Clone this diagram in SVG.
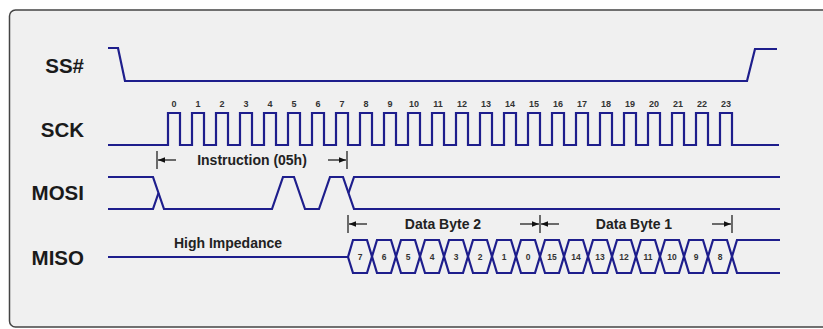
<svg xmlns="http://www.w3.org/2000/svg" width="823" height="329" viewBox="0 0 823 329">
<style>
.sig{fill:none;stroke:#1e1e8c;stroke-width:2.2;stroke-linejoin:miter}
.lbl{font-family:"Liberation Sans",Arial,sans-serif;font-weight:bold;font-size:20.5px;fill:#1a1a1a;text-anchor:end}
.num{font-family:"Liberation Sans",Arial,sans-serif;font-weight:bold;font-size:9px;fill:#333;text-anchor:middle}
.bnum{font-family:"Liberation Sans",Arial,sans-serif;font-weight:bold;font-size:8.5px;fill:#333;text-anchor:middle}
.ann{font-family:"Liberation Sans",Arial,sans-serif;font-weight:bold;font-size:14px;fill:#222;text-anchor:middle}
.dim{fill:none;stroke:#111;stroke-width:1.2}
</style>
<defs>
<marker id="ah" viewBox="0 0 10 8" refX="10" refY="4" markerWidth="7" markerHeight="5.6" markerUnits="userSpaceOnUse" orient="auto">
<path d="M0,0 L10,4 L0,8 Z" fill="#111"/>
</marker>
</defs>
<rect x="0" y="0" width="823" height="329" fill="#ffffff"/>
<rect id="frame" x="9.5" y="10" width="830" height="317" rx="6" fill="#f0f0f0" stroke="#444" stroke-width="1.5"/>

<g id="ss">
<text class="lbl" x="84" y="73">SS#</text>
<path class="sig" d="M108,48 H118 L125,81 H747 L755,49 H777"/>
</g>

<g id="sck">
<text class="lbl" x="84" y="137">SCK</text>
<path class="sig" d="M108,145 H168 V113 H180 V145 H192 V113 H204 V145 H216 V113 H228 V145 H240 V113 H252 V145 H264 V113 H276 V145 H288 V113 H300 V145 H312 V113 H324 V145 H336 V113 H348 V145 H360 V113 H372 V145 H384 V113 H396 V145 H408 V113 H420 V145 H432 V113 H444 V145 H456 V113 H468 V145 H480 V113 H492 V145 H504 V113 H516 V145 H528 V113 H540 V145 H552 V113 H564 V145 H576 V113 H588 V145 H600 V113 H612 V145 H624 V113 H636 V145 H648 V113 H660 V145 H672 V113 H684 V145 H696 V113 H708 V145 H720 V113 H732 V145 H779"/>
<g id="sck-nums">
<text class="num" x="174" y="107">0</text>
<text class="num" x="198" y="107">1</text>
<text class="num" x="222" y="107">2</text>
<text class="num" x="246" y="107">3</text>
<text class="num" x="270" y="107">4</text>
<text class="num" x="294" y="107">5</text>
<text class="num" x="318" y="107">6</text>
<text class="num" x="342" y="107">7</text>
<text class="num" x="366" y="107">8</text>
<text class="num" x="390" y="107">9</text>
<text class="num" x="414" y="107">10</text>
<text class="num" x="438" y="107">11</text>
<text class="num" x="462" y="107">12</text>
<text class="num" x="486" y="107">13</text>
<text class="num" x="510" y="107">14</text>
<text class="num" x="534" y="107">15</text>
<text class="num" x="558" y="107">16</text>
<text class="num" x="582" y="107">17</text>
<text class="num" x="606" y="107">18</text>
<text class="num" x="630" y="107">19</text>
<text class="num" x="654" y="107">20</text>
<text class="num" x="678" y="107">21</text>
<text class="num" x="702" y="107">22</text>
<text class="num" x="726" y="107">23</text>
</g>
</g>

<g id="mosi">
<text class="lbl" x="84" y="200">MOSI</text>
<path class="sig" d="M108,177 H153 L164,209 H272 L283,177 H294 L305,209 H319 L330,177 H343 L354,209 H780"/>
<path class="sig" d="M108,209 H153 L158.5,193"/>
<path class="sig" d="M348.5,193 L354,177 H780"/>
</g>

<g id="miso">
<text class="lbl" x="84" y="265">MISO</text>
<path class="sig" d="M108,257 H348"/>
<path class="sig" d="M348,257 L353,240 H367 L377,273 H391 L401,240 H415 L425,273 H439 L449,240 H463 L473,273 H487 L497,240 H511 L521,273 H535 L545,240 H559 L569,273 H583 L593,240 H607 L617,273 H631 L641,240 H655 L665,273 H679 L689,240 H703 L713,273 H727 L737,240 H780"/>
<path class="sig" d="M348,257 L353,273 H367 L377,240 H391 L401,273 H415 L425,240 H439 L449,273 H463 L473,240 H487 L497,273 H511 L521,240 H535 L545,273 H559 L569,240 H583 L593,273 H607 L617,240 H631 L641,273 H655 L665,240 H679 L689,273 H703 L713,240 H727 L737,273 H780"/>
<g id="miso-nums">
<text class="bnum" x="360" y="260">7</text>
<text class="bnum" x="384" y="260">6</text>
<text class="bnum" x="408" y="260">5</text>
<text class="bnum" x="432" y="260">4</text>
<text class="bnum" x="456" y="260">3</text>
<text class="bnum" x="480" y="260">2</text>
<text class="bnum" x="504" y="260">1</text>
<text class="bnum" x="528" y="260">0</text>
<text class="bnum" x="552" y="260">15</text>
<text class="bnum" x="576" y="260">14</text>
<text class="bnum" x="600" y="260">13</text>
<text class="bnum" x="624" y="260">12</text>
<text class="bnum" x="648" y="260">11</text>
<text class="bnum" x="672" y="260">10</text>
<text class="bnum" x="696" y="260">9</text>
<text class="bnum" x="720" y="260">8</text>
</g>
<text class="ann" x="228" y="248">High Impedance</text>
</g>

<g id="annotations">
<text class="ann" x="252" y="165">Instruction (05h)</text>
<text class="ann" x="443" y="229">Data Byte 2</text>
<text class="ann" x="634" y="229">Data Byte 1</text>
</g>

<g id="connectors">
<line class="dim" x1="157" y1="151" x2="157" y2="169"/>
<line class="dim" x1="176" y1="160" x2="158" y2="160" marker-end="url(#ah)"/>
<line class="dim" x1="328" y1="160" x2="346" y2="160" marker-end="url(#ah)"/>
<line class="dim" x1="347" y1="151" x2="347" y2="169"/>
<line class="dim" x1="348" y1="215" x2="348" y2="233"/>
<line class="dim" x1="367" y1="224" x2="349" y2="224" marker-end="url(#ah)"/>
<line class="dim" x1="520" y1="224" x2="539" y2="224" marker-end="url(#ah)"/>
<line class="dim" x1="540" y1="215" x2="540" y2="233"/>
<line class="dim" x1="559" y1="224" x2="541" y2="224" marker-end="url(#ah)"/>
<line class="dim" x1="712" y1="224" x2="731" y2="224" marker-end="url(#ah)"/>
<line class="dim" x1="732" y1="215" x2="732" y2="233"/>
</g>
</svg>
